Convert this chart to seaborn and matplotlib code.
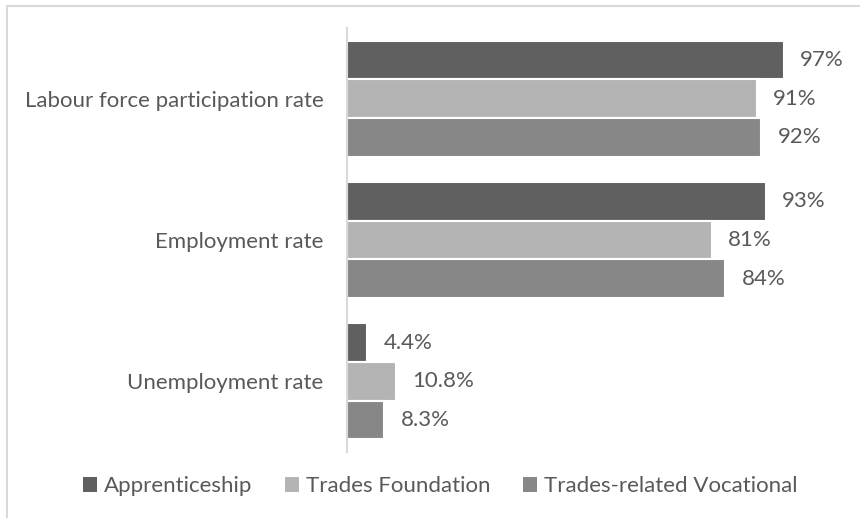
import matplotlib
matplotlib.use("Agg")
import matplotlib.pyplot as plt
import matplotlib.patches as mpatches
import seaborn as sns
import pandas as pd

# Outcome measures and programme types
categories = ["Labour force participation rate", "Employment rate", "Unemployment rate"]
series = ["Apprenticeship", "Trades Foundation", "Trades-related Vocational"]

apprenticeship = [97, 93, 4.4]
trades_foundation = [91, 81, 10.8]
trades_vocational = [92, 84, 8.3]

value_labels = {
    "Apprenticeship": ["97%", "93%", "4.4%"],
    "Trades Foundation": ["91%", "81%", "10.8%"],
    "Trades-related Vocational": ["92%", "84%", "8.3%"],
}

colors = ["#606060", "#b4b4b4", "#878787"]
text_color = "#595959"
fs = 16

rows = []
for name, vals in zip(series, [apprenticeship, trades_foundation, trades_vocational]):
    for cat, v in zip(categories, vals):
        rows.append({"Measure": cat, "Programme": name, "Rate": v})
df = pd.DataFrame(rows)

sns.set_theme(style="white")
plt.rcParams["font.family"] = ["Lato", "DejaVu Sans"]

fig = plt.figure(figsize=(8.6, 5.18), dpi=100)
ax = fig.add_axes([347 / 860, 1 - 452 / 518, 450 / 860, 424 / 518])

sns.barplot(
    data=df, y="Measure", x="Rate", hue="Programme",
    order=categories, hue_order=series, palette=colors,
    orient="h", width=0.82, edgecolor="white", linewidth=1.5,
    ax=ax, legend=False,
)

ax.set_xlim(0, 100)
ax.set_xlabel("")
ax.set_ylabel("")
ax.set_xticks([])
ax.tick_params(axis="y", length=0, pad=17, labelsize=fs, labelcolor=text_color)

for s in ["top", "right", "bottom"]:
    ax.spines[s].set_visible(False)
ax.spines["left"].set_color("#d9d9d9")
ax.spines["left"].set_linewidth(1.5)

for container, name in zip(ax.containers, series):
    ax.bar_label(container, labels=value_labels[name], padding=12,
                 fontsize=fs, color=text_color, clip_on=False)

# Legend below the plot
handles = [mpatches.Patch(facecolor=c, edgecolor="none", label=n) for c, n in zip(colors, series)]
fig.legend(handles=handles, loc="center", bbox_to_anchor=(440 / 860, 1 - 486 / 518),
           ncol=3, frameon=False, fontsize=fs, labelcolor=text_color,
           handlelength=0.66, handleheight=0.66, handletextpad=0.3,
           columnspacing=1.45)

# Chart area border
fig.patches.append(mpatches.Rectangle((7 / 860, -0.1), 1.2, 1 - 6 / 518 + 0.1,
                                      transform=fig.transFigure, fill=False,
                                      edgecolor="#d9d9d9", linewidth=1.5))

fig.savefig("out.png", dpi=100, facecolor="white")
